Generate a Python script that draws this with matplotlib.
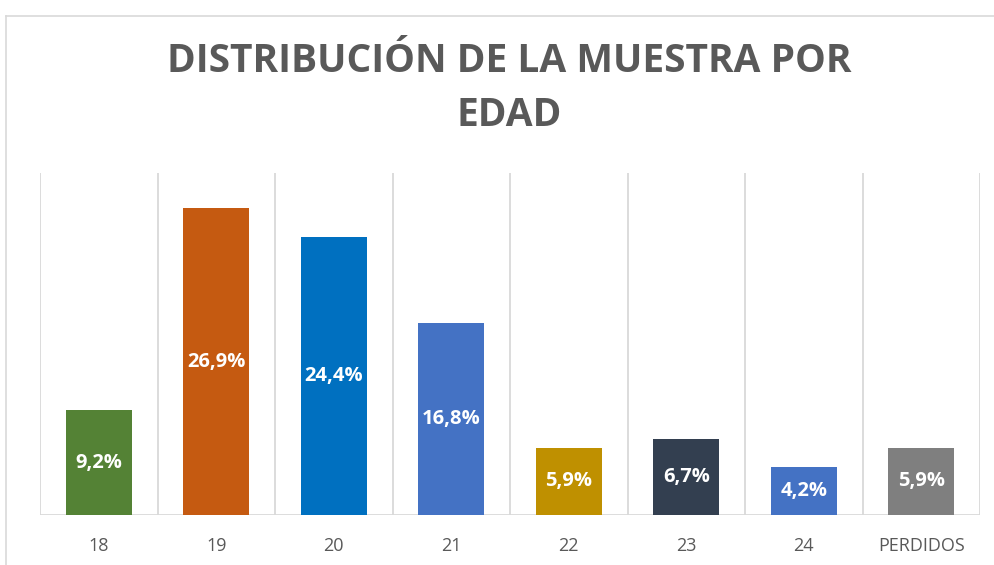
import matplotlib.pyplot as plt
from matplotlib.lines import Line2D
import numpy as np

categories = ['18', '19', '20', '21', '22', '23', '24', 'PERDIDOS']
values = [9.2, 26.9, 24.4, 16.8, 5.9, 6.7, 4.2, 5.9]
labels = ['9,2%', '26,9%', '24,4%', '16,8%', '5,9%', '6,7%', '4,2%', '5,9%']
colors = ['#548235', '#C55A11', '#0070C0', '#4472C4', '#BF9000', '#333F50', '#4472C4', '#7F7F7F']

W, H = 994, 565
fig = plt.figure(figsize=(W / 100, H / 100), dpi=100)
ax = fig.add_axes([40 / W, 1 - 515 / H, 940 / W, 342 / H])

x = np.arange(len(categories))
bars = ax.bar(x, values, width=0.56, color=colors, zorder=3)
for b, lab in zip(bars, labels):
    ax.text(b.get_x() + b.get_width() / 2, b.get_height() / 2, lab,
            ha='center', va='center', color='white', fontsize=14.5,
            fontweight='bold', family='Open Sans', zorder=4)

ax.set_xlim(-0.5, len(categories) - 0.5)
ax.set_ylim(0, 30)
for xb in np.arange(-0.5, len(categories), 1.0):
    ax.axvline(xb, color='#d9d9d9', lw=1.3, zorder=1)
ax.axhline(0, color='#d9d9d9', lw=2, zorder=2)

for s in ax.spines.values():
    s.set_visible(False)
ax.set_yticks([])
ax.set_xticks(x)
ax.set_xticklabels(categories, fontsize=13, color='#595959', family='Open Sans')
ax.tick_params(axis='x', length=0, pad=16)

fig.text(509 / W, 1 - 88 / H, 'DISTRIBUCIÓN DE LA MUESTRA POR\nEDAD', ha='center', va='center',
         fontsize=28, fontweight='bold', color='#595959', family='Open Sans', linespacing=1.5)

# outer chart frame
fig.add_artist(Line2D([5.5 / W, 5.5 / W], [0, 1 - 15.5 / H], color='#d9d9d9', lw=1.2))
fig.add_artist(Line2D([5.5 / W, 1], [1 - 15.5 / H, 1 - 15.5 / H], color='#d9d9d9', lw=1.2))

fig.savefig('out.png', dpi=100)
